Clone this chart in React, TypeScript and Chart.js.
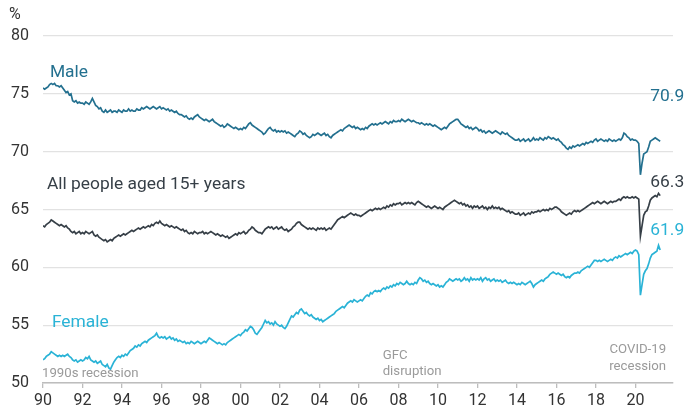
import React, { useEffect, useRef } from "react";
import { Chart, registerables } from "chart.js";

Chart.register(...registerables);

// Monthly data, January 1990 to April 2021 (participation rate, %)
const START_YEAR = 1990;

const MALE: number[] = [
  // 1990
  75.5, 75.4, 75.5, 75.6, 75.8, 75.9, 75.8, 75.9, 75.7, 75.7, 75.6, 75.7,
  // 1991
  75.5, 75.3, 75.1, 75.2, 74.9, 75.0, 74.4, 74.3, 74.4, 74.2, 74.3, 74.2,
  // 1992
  74.2, 74.1, 74.3, 74.2, 74.1, 74.3, 74.6, 74.3, 74.0, 73.9, 73.7, 73.8,
  // 1993
  73.5, 73.4, 73.6, 73.4, 73.5, 73.6, 73.4, 73.5, 73.5, 73.4, 73.6, 73.5,
  // 1994
  73.4, 73.6, 73.5, 73.5, 73.7, 73.5, 73.6, 73.5, 73.5, 73.7, 73.6, 73.6,
  // 1995
  73.8, 73.7, 73.8, 73.9, 73.8, 73.7, 73.8, 73.9, 73.8, 73.7, 73.8, 73.9,
  // 1996
  73.7, 73.8, 73.7, 73.6, 73.7, 73.5, 73.6, 73.5, 73.4, 73.5, 73.3, 73.2,
  // 1997
  73.2, 73.1, 73.0, 73.1, 72.9, 72.8, 72.9, 72.8, 73.0, 73.1, 73.2, 73.0,
  // 1998
  72.9, 72.8, 72.7, 72.8, 72.7, 72.6, 72.7, 72.8, 72.6, 72.5, 72.4, 72.3,
  // 1999
  72.2, 72.3, 72.1, 72.2, 72.4, 72.3, 72.2, 72.1, 72.0, 72.1, 72.0, 71.9,
  // 2000
  72.0, 71.9, 72.1, 72.0, 72.2, 72.4, 72.5, 72.3, 72.2, 72.1, 72.0, 71.9,
  // 2001
  71.8, 71.7, 71.5, 71.6, 71.8, 72.0, 72.1, 71.9, 71.8, 71.9, 71.7, 71.8,
  // 2002
  71.7, 71.8, 71.7, 71.8, 71.6, 71.7, 71.6, 71.5, 71.4, 71.3, 71.5, 71.6,
  // 2003
  71.8, 71.7, 71.5, 71.6, 71.4, 71.3, 71.2, 71.3, 71.5, 71.4, 71.5, 71.6,
  // 2004
  71.5, 71.4, 71.5, 71.6, 71.4, 71.5, 71.3, 71.2, 71.4, 71.5, 71.6, 71.7,
  // 2005
  71.8, 71.9, 71.8, 72.0, 72.1, 72.2, 72.3, 72.2, 72.1, 72.2, 72.0, 72.1,
  // 2006
  72.0, 71.9, 72.0, 71.9, 72.1, 72.0, 72.2, 72.3, 72.4, 72.3, 72.4, 72.3,
  // 2007
  72.4, 72.5, 72.4, 72.5, 72.6, 72.5, 72.4, 72.6, 72.5, 72.7, 72.6, 72.6,
  // 2008
  72.7, 72.6, 72.8, 72.7, 72.6, 72.7, 72.8, 72.7, 72.6, 72.7, 72.6, 72.5,
  // 2009
  72.5, 72.4, 72.5, 72.4, 72.3, 72.4, 72.3, 72.4, 72.3, 72.2, 72.3, 72.2,
  // 2010
  72.1, 72.0, 71.9, 72.0, 72.1, 72.0, 72.2, 72.4, 72.5, 72.6, 72.7, 72.8,
  // 2011
  72.8, 72.6, 72.4, 72.3, 72.2, 72.1, 72.2, 72.0, 72.1, 71.9, 72.0, 72.1,
  // 2012
  72.0, 71.8, 71.9, 71.7, 71.8, 71.6, 71.7, 71.8, 71.7, 71.6, 71.7, 71.8,
  // 2013
  71.7, 71.6, 71.5, 71.7, 71.6, 71.5, 71.6, 71.4, 71.3, 71.2, 71.1, 71.0,
  // 2014
  71.0, 71.1, 70.9, 71.0, 71.1, 70.9, 71.0, 71.1, 70.9, 71.0, 71.2, 71.0,
  // 2015
  71.1, 71.0, 71.2, 71.1, 71.0, 71.2, 71.1, 71.3, 71.2, 71.1, 71.2, 71.1,
  // 2016
  71.0, 71.1, 70.9, 70.8, 70.6, 70.5, 70.3, 70.2, 70.4, 70.3, 70.5, 70.4,
  // 2017
  70.5, 70.6, 70.5, 70.6, 70.7, 70.6, 70.8, 70.7, 70.8, 70.9, 70.8, 71.0,
  // 2018
  71.1, 70.9, 71.0, 71.1, 71.0, 70.9, 71.0, 70.9, 71.1, 71.0, 70.9, 71.0,
  // 2019
  70.9, 71.0, 71.1, 71.0, 71.2, 71.6, 71.5, 71.3, 71.2, 71.0, 71.1, 71.0,
  // 2020
  71.0, 70.9, 70.7, 68.0, 69.0, 69.8, 69.9, 70.0, 70.4, 70.9, 71.0, 71.1,
  // 2021
  71.2, 71.1, 71.0, 70.9,
];

const ALL_PEOPLE: number[] = [
  // 1990
  63.6, 63.5, 63.7, 63.8, 63.9, 64.1, 64.0, 63.9, 63.8, 63.7, 63.6, 63.7,
  // 1991
  63.6, 63.5, 63.6, 63.4, 63.3, 63.1, 63.0, 63.1, 62.9, 63.0, 63.1, 62.9,
  // 1992
  63.0, 62.9, 63.1, 63.0, 62.9, 63.0, 63.1, 62.8, 62.7, 62.8, 62.6, 62.5,
  // 1993
  62.4, 62.3, 62.4, 62.2, 62.3, 62.4, 62.3, 62.5, 62.6, 62.7, 62.8, 62.7,
  // 1994
  62.8, 62.9, 62.8, 62.9, 63.0, 63.1, 63.2, 63.1, 63.2, 63.3, 63.4, 63.3,
  // 1995
  63.4, 63.5, 63.4, 63.5, 63.6, 63.5, 63.7, 63.6, 63.8, 63.9, 63.8, 64.0,
  // 1996
  63.8, 63.7, 63.6, 63.7, 63.6, 63.5, 63.6, 63.5, 63.4, 63.5, 63.4, 63.3,
  // 1997
  63.2, 63.3, 63.1, 63.2, 63.0, 62.9, 63.0, 62.9, 63.1, 63.0, 62.9, 63.0,
  // 1998
  63.0, 63.1, 62.9, 63.0, 62.9, 63.0, 63.1, 63.0, 62.9, 62.8, 62.9, 62.8,
  // 1999
  62.7, 62.8, 62.7, 62.6, 62.7, 62.5, 62.6, 62.7, 62.8, 62.9, 62.8, 63.0,
  // 2000
  62.9, 63.0, 63.1, 62.9, 63.0, 63.2, 63.3, 63.5, 63.4, 63.2, 63.1, 63.0,
  // 2001
  63.0, 62.9, 63.1, 63.3, 63.4, 63.5, 63.4, 63.5, 63.3, 63.4, 63.5, 63.3,
  // 2002
  63.4, 63.5, 63.3, 63.2, 63.3, 63.1, 63.2, 63.3, 63.5, 63.6, 63.8, 63.9,
  // 2003
  63.9, 63.7, 63.6, 63.5, 63.4, 63.3, 63.4, 63.3, 63.4, 63.3, 63.2, 63.4,
  // 2004
  63.3, 63.4, 63.3, 63.4, 63.2, 63.3, 63.4, 63.3, 63.5, 63.7, 63.9, 64.1,
  // 2005
  64.2, 64.3, 64.4, 64.3, 64.4, 64.5, 64.6, 64.7, 64.6, 64.5, 64.6, 64.5,
  // 2006
  64.5, 64.4, 64.5, 64.6, 64.7, 64.8, 64.9, 65.0, 64.9, 65.0, 65.1, 65.0,
  // 2007
  65.1, 65.0, 65.1, 65.2, 65.1, 65.3, 65.2, 65.4, 65.3, 65.5, 65.4, 65.5,
  // 2008
  65.5, 65.6, 65.4, 65.5, 65.6, 65.5, 65.6, 65.5, 65.6, 65.5, 65.4, 65.6,
  // 2009
  65.7, 65.6, 65.5, 65.4, 65.3, 65.2, 65.3, 65.2, 65.1, 65.2, 65.3, 65.2,
  // 2010
  65.1, 65.2, 65.1, 65.0, 65.2, 65.3, 65.4, 65.5, 65.6, 65.7, 65.8, 65.7,
  // 2011
  65.6, 65.5, 65.6, 65.4, 65.5, 65.3, 65.4, 65.2, 65.3, 65.1, 65.3, 65.2,
  // 2012
  65.3, 65.1, 65.2, 65.3, 65.1, 65.2, 65.0, 65.2, 65.1, 65.3, 65.1, 65.2,
  // 2013
  65.1, 65.2, 65.0, 65.1, 65.0, 64.9, 64.8, 64.9, 64.7, 64.8, 64.7, 64.6,
  // 2014
  64.6, 64.7, 64.5, 64.6, 64.7, 64.5, 64.6, 64.7, 64.6, 64.8, 64.7, 64.8,
  // 2015
  64.8, 64.9, 64.8, 64.9, 65.0, 64.9, 65.0, 64.9, 65.1, 65.0, 65.1, 65.2,
  // 2016
  65.2, 65.1, 65.0, 64.8, 64.7, 64.6, 64.5, 64.6, 64.7, 64.6, 64.8, 64.9,
  // 2017
  64.8, 64.9, 64.8, 64.9, 65.0, 65.1, 65.2, 65.3, 65.4, 65.5, 65.6, 65.5,
  // 2018
  65.6, 65.7, 65.6, 65.5, 65.6, 65.7, 65.6, 65.5, 65.6, 65.7, 65.6, 65.7,
  // 2019
  65.7, 65.8, 65.9, 65.8, 66.0, 66.1, 66.0, 66.1, 66.0, 66.0, 66.1, 66.0,
  // 2020
  66.1, 66.0, 65.9, 62.7, 63.6, 64.5, 64.8, 64.9, 65.3, 65.8, 66.0, 66.1,
  // 2021
  66.2, 66.1, 66.4, 66.2,
];

const FEMALE: number[] = [
  // 1990
  52.0, 52.1, 52.3, 52.4, 52.5, 52.7, 52.6, 52.5, 52.4, 52.3, 52.4, 52.3,
  // 1991
  52.4, 52.3, 52.4, 52.5, 52.3, 52.2, 52.0, 51.9, 52.0, 51.8, 51.9, 52.0,
  // 1992
  51.9, 52.0, 52.2, 52.1, 52.3, 52.0, 51.9, 51.8, 51.9, 51.7, 51.8, 51.9,
  // 1993
  51.6, 51.5, 51.4, 51.6, 51.3, 51.2, 51.5, 51.8, 52.0, 52.2, 52.3, 52.2,
  // 1994
  52.4, 52.3, 52.5, 52.4, 52.6, 52.8, 52.9, 53.0, 53.2, 53.1, 53.3, 53.2,
  // 1995
  53.4, 53.5, 53.6, 53.5, 53.7, 53.8, 53.9, 54.0, 54.1, 54.3, 54.0, 53.9,
  // 1996
  54.0, 53.9, 54.0, 53.8, 53.9, 54.0, 53.8, 53.9, 53.7, 53.8, 53.6, 53.7,
  // 1997
  53.6, 53.5, 53.6, 53.4, 53.5, 53.4, 53.6, 53.5, 53.4, 53.5, 53.6, 53.5,
  // 1998
  53.4, 53.5, 53.6, 53.5, 53.7, 53.9, 53.8, 53.7, 53.6, 53.5, 53.4, 53.5,
  // 1999
  53.4, 53.3, 53.4, 53.3, 53.5, 53.6, 53.7, 53.8, 53.9, 54.0, 54.1, 54.2,
  // 2000
  54.1, 54.3, 54.4, 54.6, 54.5, 54.7, 54.9, 54.8, 54.6, 54.3, 54.2, 54.4,
  // 2001
  54.6, 54.8, 55.1, 55.4, 55.2, 55.3, 55.1, 55.2, 55.0, 55.3, 55.1, 55.0,
  // 2002
  54.9, 55.0, 54.8, 54.7, 54.9, 55.2, 55.5, 55.8, 55.7, 55.9, 56.1, 56.0,
  // 2003
  56.3, 56.4, 56.2, 56.0, 56.1, 55.9, 55.8, 55.9, 55.7, 55.6, 55.5, 55.6,
  // 2004
  55.4, 55.5, 55.3, 55.4, 55.5, 55.6, 55.7, 55.8, 55.9, 56.0, 56.2, 56.3,
  // 2005
  56.4, 56.5, 56.6, 56.5, 56.7, 56.9, 57.0, 57.1, 57.0, 57.2, 57.1, 57.0,
  // 2006
  57.1, 57.2, 57.1, 57.3, 57.5, 57.6, 57.5, 57.8, 57.7, 57.9, 58.0, 57.9,
  // 2007
  58.0, 57.9, 58.1, 58.2, 58.1, 58.3, 58.2, 58.4, 58.3, 58.5, 58.4, 58.6,
  // 2008
  58.5, 58.7, 58.6, 58.5, 58.6, 58.8, 58.6, 58.5, 58.6, 58.5, 58.7, 58.6,
  // 2009
  58.9, 59.1, 59.0, 58.8, 58.9, 58.7, 58.8, 58.6, 58.5, 58.6, 58.5, 58.4,
  // 2010
  58.5, 58.3, 58.4, 58.3, 58.5, 58.7, 58.8, 59.0, 58.9, 58.8, 58.9, 59.0,
  // 2011
  58.9, 59.0, 58.8, 58.9, 59.1, 58.9, 59.0, 58.8, 59.1, 58.9, 59.0, 58.9,
  // 2012
  59.0, 58.9, 59.1, 58.8, 59.0, 59.1, 58.9, 59.0, 58.8, 58.9, 59.0, 58.8,
  // 2013
  58.9, 58.8, 58.9, 58.7, 58.8, 58.9, 58.7, 58.6, 58.7, 58.6, 58.7, 58.6,
  // 2014
  58.5, 58.6, 58.5, 58.7, 58.6, 58.5, 58.6, 58.7, 58.8, 58.6, 58.3, 58.5,
  // 2015
  58.6, 58.7, 58.8, 58.9, 58.8, 59.0, 59.1, 59.2, 59.4, 59.5, 59.6, 59.5,
  // 2016
  59.4, 59.5, 59.4, 59.3, 59.4, 59.2, 59.1, 59.2, 59.1, 59.3, 59.4, 59.5,
  // 2017
  59.5, 59.6, 59.5, 59.7, 59.8, 59.9, 60.0, 60.1, 60.0, 60.2, 60.4, 60.6,
  // 2018
  60.6, 60.5, 60.6, 60.5, 60.6, 60.7, 60.6, 60.5, 60.6, 60.7, 60.6, 60.8,
  // 2019
  60.9, 60.8, 61.0, 60.9, 61.0, 61.1, 61.2, 61.1, 61.2, 61.3, 61.2, 61.4,
  // 2020
  61.5, 61.4, 61.1, 57.6, 58.5, 59.4, 59.7, 59.9, 60.3, 60.8, 61.1, 61.2,
  // 2021
  61.3, 61.4, 61.9, 61.5,
];

const X_TICKS: number[] = [
  1990, 1992, 1994, 1996, 1998, 2000, 2002, 2004, 2006, 2008, 2010, 2012, 2014, 2016, 2018, 2020,
];
const Y_TICKS: number[] = [50, 55, 60, 65, 70, 75, 80];

const LATEST_LABELS = ["70.9", "66.3", "61.9"];
const SERIES_NAMES = ["Male", "All people aged 15+ years", "Female"];

const C_MALE = "#23708f";
const C_ALL = "#363f47";
const C_FEMALE = "#2ab3d6";
const C_NOTE = "#9a9a9a";
const FONT = "Roboto, 'Noto Sans', sans-serif";

const toPoints = (arr: number[]) => arr.map((v, i) => ({ x: START_YEAR + i / 12, y: v }));

const annotationPlugin = {
  id: "textAnnotations",
  afterDraw(chart: any) {
    const { ctx, scales } = chart;
    const x = scales.x;
    const y = scales.y;
    const px = (v: number) => x.getPixelForValue(v);
    const py = (v: number) => y.getPixelForValue(v);
    ctx.save();
    ctx.textBaseline = "middle";

    // unit
    ctx.font = `16px ${FONT}`;
    ctx.fillStyle = "#333";
    ctx.textAlign = "left";
    ctx.fillText("%", 9, 15);

    // series names
    ctx.font = `17.4px ${FONT}`;
    ctx.fillStyle = C_MALE;
    ctx.fillText(SERIES_NAMES[0], px(1990.35), py(76.8));
    ctx.fillStyle = C_ALL;
    ctx.fillText(SERIES_NAMES[1], px(1990.2), py(67.15));
    ctx.fillStyle = C_FEMALE;
    ctx.fillText(SERIES_NAMES[2], px(1990.45), py(55.25));

    // latest values
    ctx.fillStyle = C_MALE;
    ctx.fillText(LATEST_LABELS[0], px(2020.75), py(74.75));
    ctx.fillStyle = C_ALL;
    ctx.fillText(LATEST_LABELS[1], px(2020.75), py(67.3));
    ctx.fillStyle = C_FEMALE;
    ctx.fillText(LATEST_LABELS[2], px(2020.75), py(63.2));

    // event notes
    ctx.font = `13.2px ${FONT}`;
    ctx.fillStyle = C_NOTE;
    ctx.fillText("1990s recession", px(1989.95), py(50.8));
    ctx.fillText("GFC", px(2007.2), py(52.4));
    ctx.fillText("disruption", px(2007.2), py(50.95));
    ctx.textAlign = "right";
    ctx.fillText("COVID-19", px(2021.55), py(52.9));
    ctx.fillText("recession", px(2021.55), py(51.45));
    ctx.restore();
  },
};

export default function App() {
  const canvasRef = useRef<HTMLCanvasElement | null>(null);

  useEffect(() => {
    if (!canvasRef.current) return;
    const line = (label: string, data: number[], color: string) => ({
      label,
      data: toPoints(data),
      borderColor: color,
      backgroundColor: color,
      borderWidth: 1.7,
      pointRadius: 0,
      tension: 0,
      fill: false,
    });
    const chart = new Chart(canvasRef.current, {
      type: "line",
      data: {
        datasets: [
          line(SERIES_NAMES[2], FEMALE, C_FEMALE),
          line(SERIES_NAMES[1], ALL_PEOPLE, C_ALL),
          line(SERIES_NAMES[0], MALE, C_MALE),
        ],
      },
      options: {
        animation: false,
        responsive: true,
        maintainAspectRatio: false,
        layout: { padding: { top: 36, right: 14, left: 0, bottom: 0 } },
        plugins: { legend: { display: false }, tooltip: { enabled: false } },
        scales: {
          x: {
            type: "linear",
            min: 1990,
            max: 2021.9,
            afterBuildTicks: (s: any) => {
              s.ticks = X_TICKS.map((v) => ({ value: v }));
            },
            afterFit: (s: any) => {
              s.height = 29;
            },
            ticks: {
              autoSkip: false,
              maxRotation: 0,
              padding: 3,
              color: "#333",
              font: { family: FONT, size: 16 },
              callback: (v: any) => String(Number(v) % 100).padStart(2, "0"),
            },
            grid: {
              display: true,
              drawOnChartArea: false,
              drawTicks: true,
              tickLength: 5,
              color: "#bdbdbd",
              lineWidth: 1.3,
            },
            border: { display: true, color: "#bdbdbd", width: 1.5 },
          },
          y: {
            type: "linear",
            min: 50,
            max: 80,
            afterBuildTicks: (s: any) => {
              s.ticks = Y_TICKS.map((v) => ({ value: v }));
            },
            afterFit: (s: any) => {
              s.width = 43;
            },
            ticks: {
              padding: 14,
              color: "#333",
              font: { family: FONT, size: 16 },
            },
            grid: { color: "#e2e2e2", lineWidth: 1.3, drawTicks: false },
            border: { display: false },
          },
        },
      },
      plugins: [annotationPlugin],
    } as any);
    return () => chart.destroy();
  }, []);

  return (
    <div style={{ position: "fixed", left: 0, top: 0, width: 687, height: 412, background: "#fff" }}>
      <canvas ref={canvasRef} />
    </div>
  );
}
